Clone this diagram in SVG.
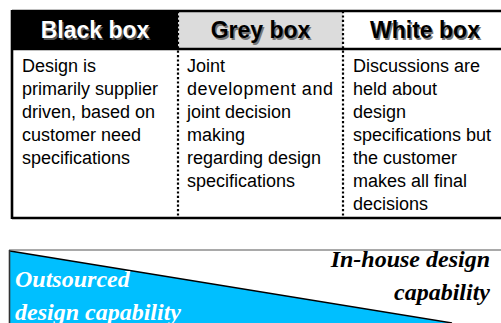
<svg xmlns="http://www.w3.org/2000/svg" width="501" height="323" viewBox="0 0 501 323">
<style>
.hd{font-family:"Liberation Sans",Arial,sans-serif;font-weight:bold;font-size:23px;text-anchor:middle}
.sh{fill:#777}
.body{font-family:"Liberation Sans",Arial,sans-serif;font-size:18px;fill:#000}
.serif{font-family:"Liberation Serif","Times New Roman",serif;font-weight:bold;font-style:italic;font-size:24px}
.div{stroke:#000;stroke-width:2.2;stroke-dasharray:2.2 2.2;fill:none}
.rule{stroke:#000;stroke-width:2.6;fill:none}
</style>
<rect width="501" height="323" fill="#fff"/>
<g id="table">
  <rect id="black-head" x="12" y="11" width="166" height="38" fill="#000"/>
  <rect id="grey-head" x="178" y="11" width="165" height="38" fill="#dcdcdc"/>
  <g id="black-box">
    <text class="hd" x="96.5" y="39.5" fill="#555">Black box</text>
    <text class="hd" x="95" y="38" fill="#fff">Black box</text>
    <text class="body" x="22" y="72">Design is</text>
    <text class="body" x="22" y="95">primarily supplier</text>
    <text class="body" x="22" y="118">driven, based on</text>
    <text class="body" x="22" y="141">customer need</text>
    <text class="body" x="22" y="164">specifications</text>
  </g>
  <g id="grey-box">
    <text class="hd sh" x="262" y="39.5">Grey box</text>
    <text class="hd" x="260.5" y="38" fill="#000">Grey box</text>
    <text class="body" x="187" y="72">Joint</text>
    <text class="body" x="187" y="95" textLength="146" lengthAdjust="spacing">development and</text>
    <text class="body" x="187" y="118">joint decision</text>
    <text class="body" x="187" y="141">making</text>
    <text class="body" x="187" y="164">regarding design</text>
    <text class="body" x="187" y="187">specifications</text>
  </g>
  <g id="white-box">
    <text class="hd sh" x="426.5" y="39.5">White box</text>
    <text class="hd" x="425" y="38" fill="#000">White box</text>
    <text class="body" x="353" y="72">Discussions are</text>
    <text class="body" x="353" y="95">held about</text>
    <text class="body" x="353" y="118">design</text>
    <text class="body" x="353" y="141">specifications but</text>
    <text class="body" x="353" y="164">the customer</text>
    <text class="body" x="353" y="187">makes all final</text>
    <text class="body" x="353" y="210">decisions</text>
  </g>
  <g id="table-lines">
    <line class="rule" x1="12" y1="11" x2="501" y2="11"/>
    <line class="rule" x1="12" y1="49" x2="501" y2="49"/>
    <line class="rule" x1="12" y1="218" x2="501" y2="218"/>
    <line class="rule" x1="12" y1="10" x2="12" y2="219"/>
    <line class="div" x1="178" y1="11" x2="178" y2="218"/>
    <line class="div" x1="343" y1="11" x2="343" y2="218"/>
  </g>
</g>
<g id="capability">
  <polygon id="outsourced-area" points="10,251 452,323 10,323" fill="#00bfff"/>
  <line x1="10" y1="251" x2="452" y2="323" stroke="#000" stroke-width="1.4"/>
  <line x1="9" y1="250" x2="501" y2="250" stroke="#555" stroke-width="1.2"/>
  <line x1="9.5" y1="250" x2="9.5" y2="323" stroke="#333" stroke-width="1.6"/>
  <g id="outsourced">
    <text class="serif" x="15" y="287" fill="#fff">Outsourced</text>
    <text class="serif" x="15" y="320" fill="#fff">design capability</text>
  </g>
  <g id="in-house">
    <text class="serif" x="490" y="266.5" fill="#000" text-anchor="end">In-house design</text>
    <text class="serif" x="490" y="300" fill="#000" text-anchor="end">capability</text>
  </g>
</g>
</svg>
